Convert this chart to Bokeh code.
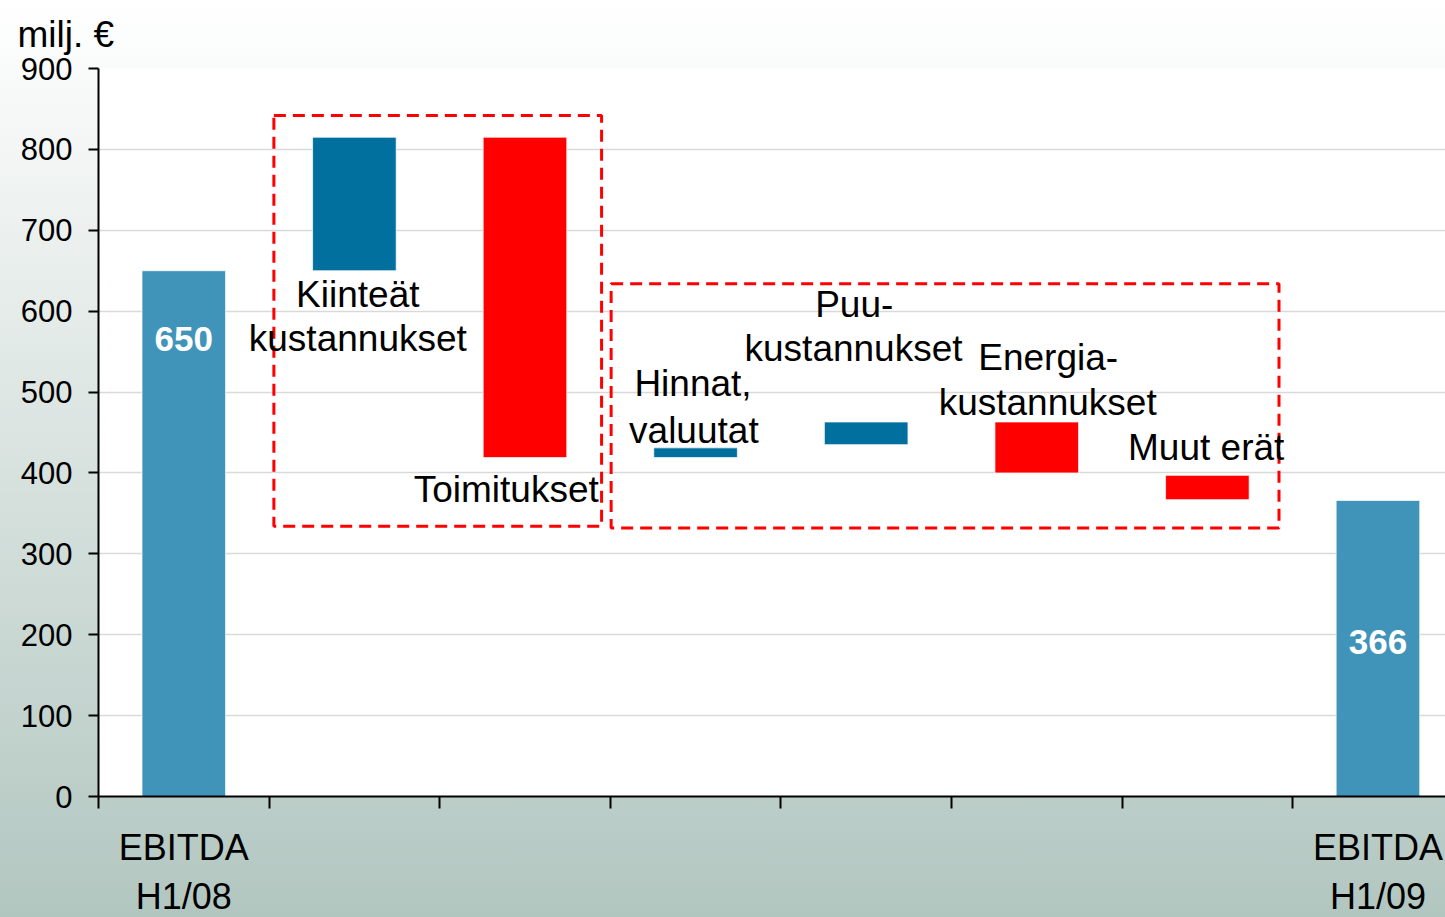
from bokeh.plotting import figure
from bokeh.models import FixedTicker, ColumnDataSource, Range1d
from bokeh.core.properties import value
from bokeh.embed import file_html
from bokeh.resources import INLINE

# ---- data (millions of euros) ----
categories = ["EBITDA H1/08", "Kiinteät kustannukset", "Toimitukset", "Hinnat, valuutat",
              "Puu-kustannukset", "Energia-kustannukset", "Muut erät", "EBITDA H1/09"]
bar_start = [0, 650, 815, 419, 435, 463, 397, 0]
bar_end = [650, 815, 419, 431, 463, 400, 367, 366]
bar_colors = ["#4194B9", "#02709E", "#FF0000", "#02709E", "#02709E", "#FF0000", "#FF0000", "#4194B9"]
value_labels = ["650", "", "", "", "", "", "", "366"]
y_ticks = [0, 100, 200, 300, 400, 500, 600, 700, 800, 900]
x_tick_labels = {0: "EBITDA\nH1/08", 7: "EBITDA\nH1/09"}
unit_label = "milj. €"

# in-chart category captions (one entry per line)
cap_text = ["Kiinteät", "kustannukset", "Toimitukset", "Hinnat,", "valuutat",
            "Puu-", "kustannukset", "Energia-", "kustannukset", "Muut erät"]
cap_x = [1.02, 1.02, 1.89, 2.985, 2.99, 3.93, 3.926, 5.067, 5.064, 5.993]
cap_y = [621, 566, 380, 511, 453, 608, 554, 543, 487, 432]

# dashed group boxes
box_left = [0.528, 2.505]
box_right = [2.449, 6.42]
box_bottom = [334, 332]
box_top = [842, 634]

xs = list(range(len(categories)))
bottoms = [min(a, b) for a, b in zip(bar_start, bar_end)]
tops = [max(a, b) for a, b in zip(bar_start, bar_end)]

p = figure(frame_width=1347, frame_height=728, output_backend="svg", toolbar_location=None,
           x_range=Range1d(-0.5, 7.396), y_range=Range1d(0, 900),
           min_border_left=98, min_border_top=68, min_border_right=0, min_border_bottom=110,
           title=unit_label)
p.outline_line_color = None
p.background_fill_color = "white"
p.border_fill_alpha = 0.0

p.title.align = "left"
p.title.vertical_align = "top"
p.title.offset = -81
p.title.standoff = 23
p.title.text_font = "Liberation Sans"
p.title.text_font_size = "37px"
p.title.text_font_style = "normal"
p.title.text_color = "black"

src = ColumnDataSource(dict(x=xs, bottom=bottoms, top=tops, color=bar_colors))
p.vbar(x="x", width=0.49, bottom="bottom", top="top", fill_color="color",
       line_color="white", line_width=1, line_alpha=0.7, source=src)

# dashed group boxes
p.quad(left=box_left, right=box_right, bottom=box_bottom, top=box_top,
       fill_alpha=0, line_color="#FF0000", line_width=3, line_dash="12 7")

# value labels inside totals
lab_x = [x for x, t in zip(xs, value_labels) if t]
lab_t = [t for t in value_labels if t]
lab_y = [e - 85 if e > 500 else e - 175 for e, t in zip(bar_end, value_labels) if t]
p.text(x=lab_x, y=lab_y, text=lab_t, text_align="center", text_baseline="alphabetic",
       text_color="white", text_font_size="35px", text_font_style="bold",
       text_font=value("Liberation Sans"))

# captions
p.text(x=cap_x, y=cap_y, text=cap_text, text_align="center", text_baseline="alphabetic",
       text_color="black", text_font_size="37px", text_font=value("Liberation Sans"))

# axes
p.yaxis.ticker = FixedTicker(ticks=y_ticks)
p.yaxis.major_label_text_font = "Liberation Sans"
p.yaxis.major_label_text_font_size = "31px"
p.yaxis.major_label_text_color = "black"
p.yaxis.axis_line_width = 2
p.yaxis.axis_line_color = "black"
p.yaxis.major_tick_line_width = 2
p.yaxis.major_tick_out = 10
p.yaxis.major_tick_in = 0
p.yaxis.minor_tick_line_color = None
p.yaxis.major_label_standoff = 16

p.xaxis.ticker = FixedTicker(ticks=[0, 7], minor_ticks=[i - 0.5 for i in range(8)])
p.xaxis.major_label_overrides = x_tick_labels
p.xaxis.major_tick_line_color = None
p.xaxis.minor_tick_line_color = "black"
p.xaxis.minor_tick_line_width = 2
p.xaxis.minor_tick_out = 12
p.xaxis.minor_tick_in = 0
p.xaxis.axis_line_width = 2
p.xaxis.axis_line_color = "black"
p.xaxis.major_label_text_font = "Liberation Sans"
p.xaxis.major_label_text_font_size = "36px"
p.xaxis.major_label_text_color = "black"
p.xaxis.major_label_standoff = 18

p.xgrid.grid_line_color = None
p.ygrid.grid_line_color = "#D9D9D9"
p.ygrid.grid_line_width = 1.5
p.ygrid.ticker = FixedTicker(ticks=y_ticks[1:])

html = file_html(p, INLINE, title="chart")
style = ("<style>html,body{overflow:hidden;}html{min-height:100%;"
         "background:linear-gradient(to bottom,#FFFFFF 0%,#B2C6C0 100%);}"
         "body{background:transparent;}</style>")
html = html.replace("</head>", style + "</head>", 1)
open("out.html", "w").write(html)
